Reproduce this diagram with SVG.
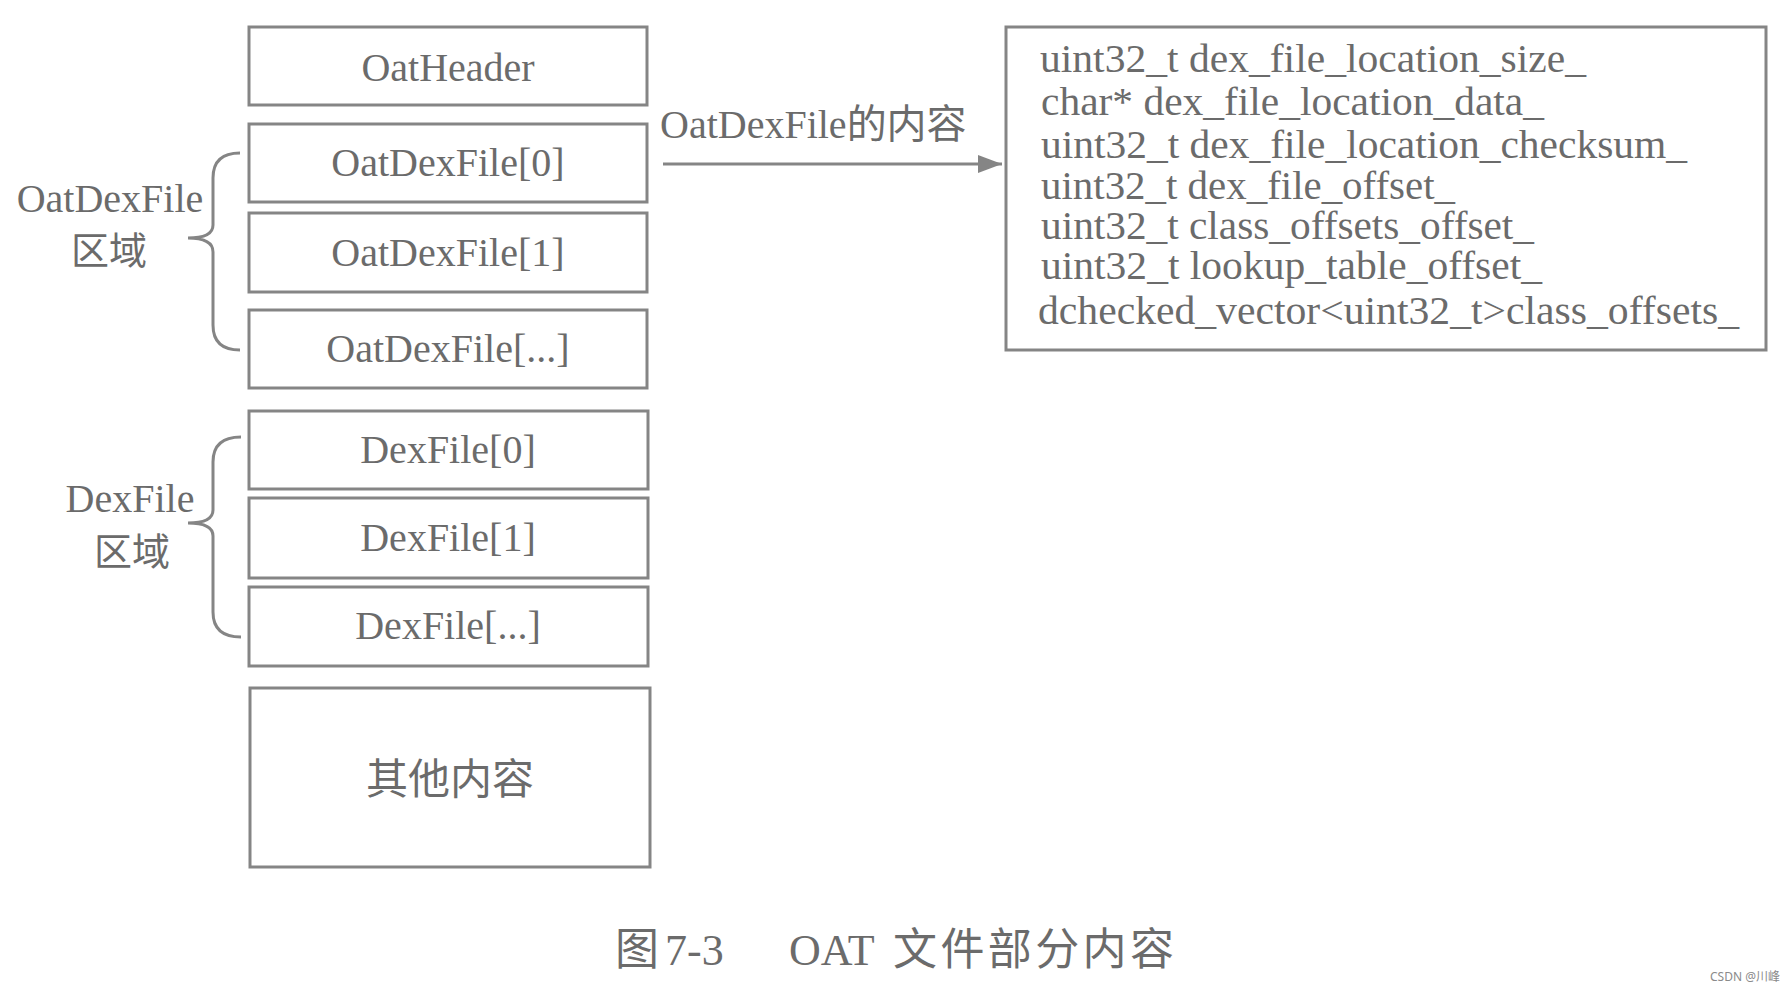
<svg xmlns="http://www.w3.org/2000/svg" width="1791" height="991" viewBox="0 0 1791 991">
<style>
  .box{fill:#ffffff;stroke:#858585;stroke-width:3}
  .t{font-family:"Liberation Serif","Noto Sans CJK SC",serif;font-size:40px;fill:#6b6b6b}
  .c{text-anchor:middle}
  .cjk{font-family:"Noto Sans CJK SC","Liberation Serif",sans-serif;fill:#6b6b6b}
  .r{font-family:"Liberation Serif","Noto Sans CJK SC",serif;font-size:39px;fill:#6b6b6b}
  .cap{font-family:"Liberation Serif","Noto Sans CJK SC",serif;font-size:44px;fill:#6b6b6b}
  .brace{fill:none;stroke:#858585;stroke-width:3}
  .conn{fill:none;stroke:#858585;stroke-width:3}
</style>
<defs>
  <marker id="arr" markerWidth="8" markerHeight="6" refX="8" refY="3" orient="auto" markerUnits="strokeWidth">
    <path d="M0,0 L8,3 L0,6 Z" fill="#858585"/>
  </marker>
</defs>
<rect width="1791" height="991" fill="#ffffff"/>

<g id="oatheader"><rect class="box" x="249" y="27" width="398" height="78"/><text class="t c" x="448" y="81">OatHeader</text></g>
<g id="oatdexfile0"><rect class="box" x="249" y="124" width="398" height="78"/><text class="t c" x="448" y="176">OatDexFile[0]</text></g>
<g id="oatdexfile1"><rect class="box" x="249" y="213" width="398" height="79"/><text class="t c" x="448" y="266">OatDexFile[1]</text></g>
<g id="oatdexfileN"><rect class="box" x="249" y="310" width="398" height="78"/><text class="t c" x="448" y="362">OatDexFile[...]</text></g>
<g id="dexfile0"><rect class="box" x="249" y="411" width="399" height="78"/><text class="t c" x="448" y="463">DexFile[0]</text></g>
<g id="dexfile1"><rect class="box" x="249" y="498" width="399" height="80"/><text class="t c" x="448" y="551">DexFile[1]</text></g>
<g id="dexfileN"><rect class="box" x="249" y="587" width="399" height="79"/><text class="t c" x="448" y="639">DexFile[...]</text></g>
<g id="other"><rect class="box" x="250" y="688" width="400" height="179"/><text class="cjk c" x="450" y="794" font-size="42">其他内容</text></g>

<g id="oatdexfile-region">
  <path class="brace" d="M240,153 Q213,153 213,178 L213,225 Q213,238 188,238 Q213,238 213,252 L213,325 Q213,350 240,350"/>
  <text class="t c" x="110" y="212">OatDexFile</text>
  <text class="cjk c" x="109" y="264" font-size="38">区域</text>
</g>
<g id="dexfile-region">
  <path class="brace" d="M241,437 Q213,437 213,462 L213,510 Q213,523 188,523 Q213,523 213,536 L213,612 Q213,637 241,637"/>
  <text class="t c" x="130" y="512">DexFile</text>
  <text class="cjk c" x="132" y="565" font-size="38">区域</text>
</g>

<g id="oatdexfile-content">
  <rect class="box" x="1006" y="27" width="760" height="323"/>
  <text class="r" x="1040" y="72" textLength="546" lengthAdjust="spacingAndGlyphs">uint32_t dex_file_location_size_</text>
  <text class="r" x="1041" y="115" textLength="503" lengthAdjust="spacingAndGlyphs">char* dex_file_location_data_</text>
  <text class="r" x="1041" y="158" textLength="646" lengthAdjust="spacingAndGlyphs">uint32_t dex_file_location_checksum_</text>
  <text class="r" x="1041" y="199" textLength="414" lengthAdjust="spacingAndGlyphs">uint32_t dex_file_offset_</text>
  <text class="r" x="1041" y="239" textLength="493" lengthAdjust="spacingAndGlyphs">uint32_t class_offsets_offset_</text>
  <text class="r" x="1041" y="279" textLength="501" lengthAdjust="spacingAndGlyphs">uint32_t lookup_table_offset_</text>
  <text class="r" x="1038" y="324" textLength="701" lengthAdjust="spacingAndGlyphs">dchecked_vector&lt;uint32_t&gt;class_offsets_</text>
</g>

<g id="connectors">
  <line class="conn" x1="663" y1="164" x2="1002" y2="164" marker-end="url(#arr)"/>
  <text class="t" x="660" y="138">OatDexFile<tspan class="cjk" font-size="40">的内容</tspan></text>
</g>

<g id="caption">
  <text class="cjk" x="615" y="965" font-size="44">图</text>
  <text class="cap" x="665" y="965">7-3</text>
  <text class="cap" x="789" y="965">OAT</text>
  <text class="cjk" x="893" y="965" font-size="44" textLength="281" lengthAdjust="spacing">文件部分内容</text>
</g>
<text x="1710" y="981" font-family="'Noto Sans','Noto Sans CJK SC',sans-serif" font-size="12" fill="#8a8a8a">CSDN @川峰</text>
</svg>
